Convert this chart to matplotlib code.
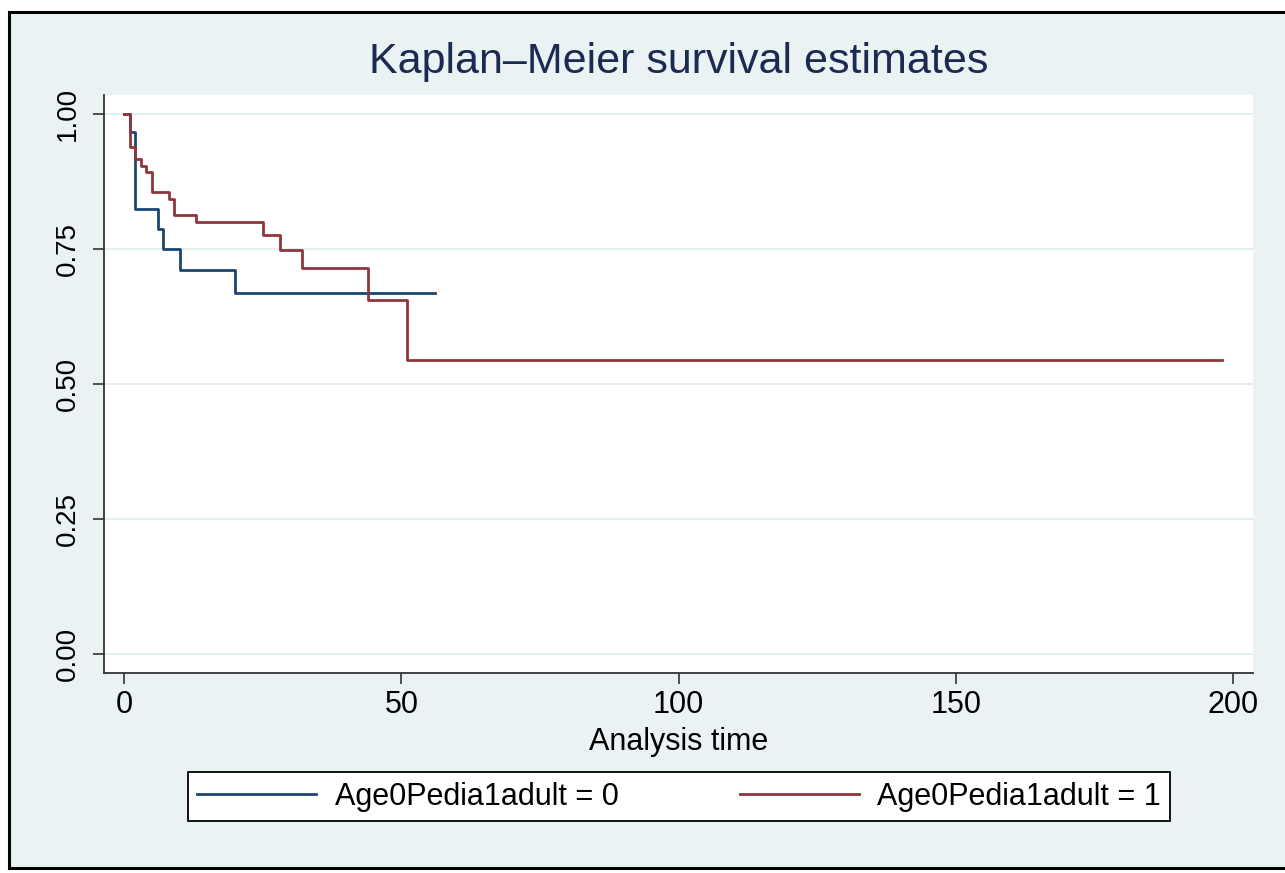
import numpy as np
import matplotlib.pyplot as plt
from matplotlib.patches import Rectangle

plt.rcParams['font.family'] = ['Liberation Sans', 'DejaVu Sans']

# Kaplan-Meier step data
t_ped = [0, 1, 2, 6, 7, 10, 20]
s_ped = [1.0, 0.967, 0.824, 0.787, 0.749, 0.711, 0.668]
end_ped = 56

t_adult = [0, 1, 2, 3, 4, 5, 8, 9, 13, 25, 28, 32, 44, 51]
s_adult = [1.0, 0.939, 0.916, 0.904, 0.893, 0.855, 0.842, 0.813, 0.800,
           0.776, 0.747, 0.715, 0.656, 0.545]
end_adult = 198

labels = ['Age0Pedia1adult = 0', 'Age0Pedia1adult = 1']
xticks = [0, 50, 100, 150, 200]
yticks = [0.0, 0.25, 0.5, 0.75, 1.0]

navy = '#1a476f'
maroon = '#90353b'
bg = '#eaf2f3'

W, H = 1285, 873
fig = plt.figure(figsize=(W / 100, H / 100), dpi=100, facecolor='white')

# outer stata-like frame
fig.patches.append(Rectangle((9 / W, 5 / H), 1.02, 856 / H, transform=fig.transFigure,
                             facecolor=bg, edgecolor='black', lw=2.2, zorder=-5))

ax = fig.add_axes([104 / W, 1 - 673 / H, 1149 / W, 578 / H])
ax.set_facecolor('white')

ax.step(np.append(t_ped, end_ped), np.append(s_ped, s_ped[-1]), where='post',
        color=navy, lw=2.0, label=labels[0], zorder=3)
ax.step(np.append(t_adult, end_adult), np.append(s_adult, s_adult[-1]), where='post',
        color=maroon, lw=2.0, label=labels[1], zorder=3)

ax.set_xlim(-3.66, 203.6)
ax.set_ylim(-0.0351, 1.0346)
ax.set_xticks(xticks)
ax.set_yticks(yticks)
ax.set_yticklabels(['%.2f' % v for v in yticks], rotation=90, va='center')
ax.tick_params(axis='x', labelsize=22, length=8, width=1.2, pad=4, color='#333333')
ax.tick_params(axis='y', labelsize=20, length=8, width=1.2, pad=9, color='#333333')
ax.yaxis.grid(True, color='#e4edef', lw=1.5, zorder=0)
ax.set_axisbelow(True)

for side in ['top', 'right']:
    ax.spines[side].set_visible(False)
for side in ['left', 'bottom']:
    ax.spines[side].set_color('#333333')
    ax.spines[side].set_linewidth(1.3)

ax.set_xlabel('Analysis time', fontsize=22, labelpad=5)

fig.text(678.5 / W, 1 - 73 / H, 'Kaplan\u2013Meier survival estimates', ha='center',
         va='baseline', fontsize=31, color='#1c2a52')

handles, lbls = ax.get_legend_handles_labels()
leg = fig.legend(handles, lbls, loc='center', ncol=2, mode='expand',
                 bbox_to_anchor=(188 / W, 1 - 823 / H, 982 / W, 53 / H),
                 borderaxespad=0, fontsize=22, handlelength=3.9, handletextpad=0.6,
                 borderpad=0.3, fancybox=False, framealpha=1)
leg.get_frame().set_edgecolor('black')
leg.get_frame().set_linewidth(1.3)

fig.savefig('out.png', dpi=100, facecolor='white')
